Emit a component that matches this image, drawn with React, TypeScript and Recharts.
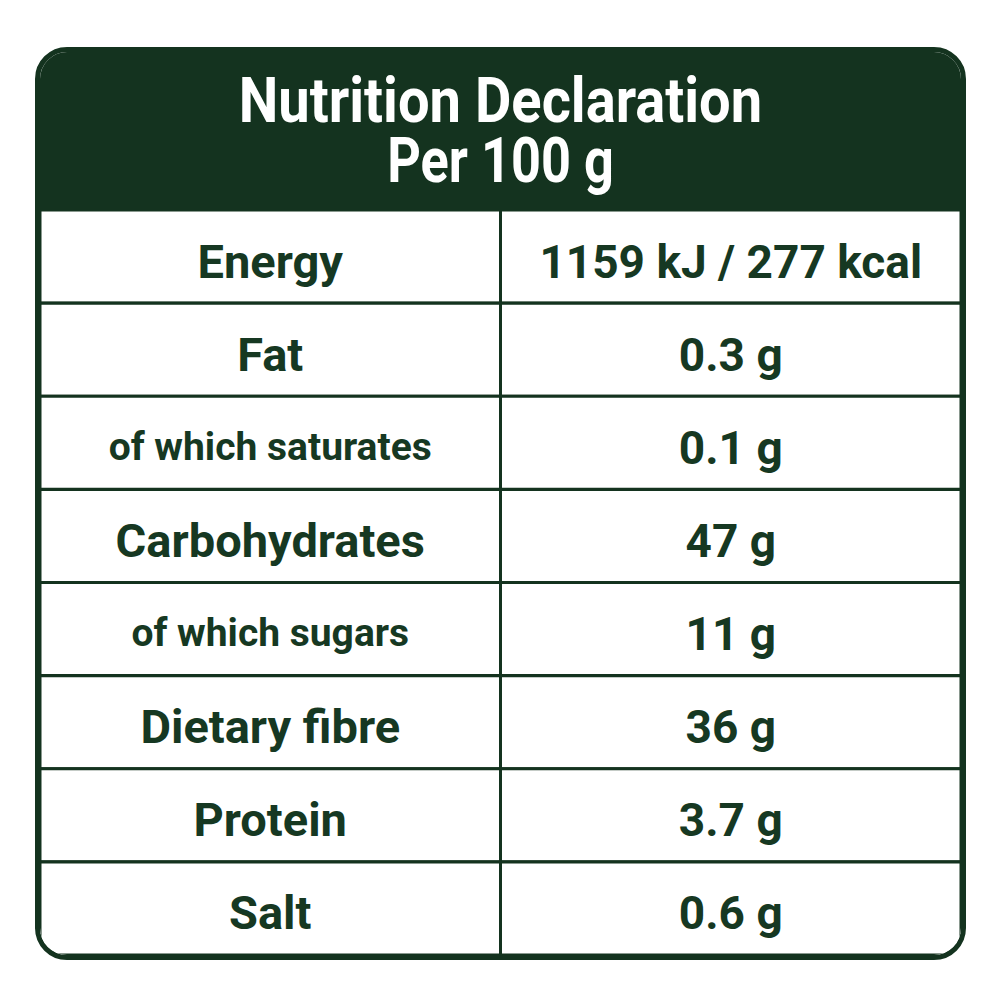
import React from "react";
import { BarChart, Bar, XAxis, YAxis, LabelList } from "recharts";

const nutrients = [
  "Energy",
  "Fat",
  "of which saturates",
  "Carbohydrates",
  "of which sugars",
  "Dietary fibre",
  "Protein",
  "Salt",
];
const amounts = [
  "1159 kJ / 277 kcal",
  "0.3 g",
  "0.1 g",
  "47 g",
  "11 g",
  "36 g",
  "3.7 g",
  "0.6 g",
];
const subRow = [false, false, true, false, true, false, false, false];
const titleLines = ["Nutrition Declaration", "Per 100 g"];

// each row is two equal columns stacked side by side
const rows = nutrients.map((name, i) => ({
  name,
  amount: amounts[i],
  sub: subRow[i],
  nameCol: 1,
  amountCol: 1,
}));

const GREEN = "#14331f";
const TEXT = "#163822";
const FONT = "Roboto, 'Noto Sans', sans-serif";

function CellText(props: any) {
  const { x, y, width, height, value, index } = props;
  const small = props.small && rows[index].sub;
  return (
    <text
      x={x + width / 2}
      y={y + height / 2}
      dy={small ? 17 : 21}
      textAnchor="middle"
      fill={TEXT}
      fontFamily={FONT}
      fontWeight={700}
      fontSize={small ? 39 : props.small ? 47 : 46}
    >
      {value}
    </text>
  );
}

export default function App() {
  return (
    <div style={{ position: "absolute", left: 0, top: 0, width: 1000, height: 1000, background: "#fff" }}>
      <div
        style={{
          position: "absolute",
          left: 35,
          top: 47,
          width: 931,
          height: 913,
          border: `5px solid ${GREEN}`,
          borderRadius: 32,
          boxSizing: "border-box",
          overflow: "hidden",
          background: "#fff",
        }}
      >
        <div
          style={{
            height: 158,
            background: GREEN,
            color: "#fff",
            fontFamily: FONT,
            fontWeight: 700,
            fontSize: 63,
            lineHeight: "57px",
            textAlign: "center",
            paddingTop: 20,
            boxSizing: "border-box",
          }}
        >
          {titleLines.map((t, i) => (
            <div
              key={t}
              style={{ transform: `scaleX(${i === 0 ? 0.89 : 0.83})`, marginTop: i === 0 ? 0 : 3 }}
            >
              {t}
            </div>
          ))}
        </div>
        <BarChart
          width={921}
          height={745}
          data={rows}
          layout="vertical"
          margin={{ top: 0, right: 0, bottom: 0, left: 0 }}
          barCategoryGap={0}
          barGap={0}
        >
          <XAxis type="number" domain={[0, 2]} hide />
          <YAxis type="category" dataKey="name" hide />
          <Bar dataKey="nameCol" stackId="row" fill="#fff" stroke={GREEN} strokeWidth={3} isAnimationActive={false}>
            <LabelList dataKey="name" content={(p: any) => <CellText {...p} small />} />
          </Bar>
          <Bar dataKey="amountCol" stackId="row" fill="#fff" stroke={GREEN} strokeWidth={3} isAnimationActive={false}>
            <LabelList dataKey="amount" content={(p: any) => <CellText {...p} />} />
          </Bar>
        </BarChart>
      </div>
    </div>
  );
}
